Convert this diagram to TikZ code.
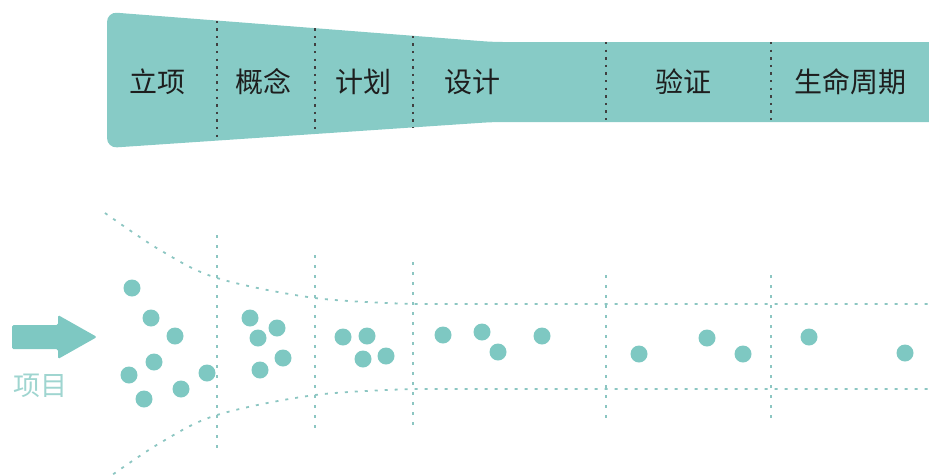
\documentclass[tikz,border=0pt]{standalone}
\usepackage{fontspec}
\newfontfamily\cjk{Noto Sans CJK SC}
\definecolor{bandfill}{HTML}{87CBC6}
\definecolor{dotfill}{HTML}{7EC8C2}
\definecolor{guide}{HTML}{8CC6C2}
\definecolor{lbl}{HTML}{9FD5D0}
\definecolor{txt}{HTML}{1E1E1E}
\tikzset{
  stagelabel/.style={font=\cjk\fontsize{28}{30}\selectfont, text=txt, inner sep=0pt, anchor=center},
  divider/.style={draw=txt!85, line width=2pt, dash pattern=on 2.4pt off 5.2pt},
  guideline/.style={draw=guide, line width=1.8pt, dash pattern=on 3pt off 7pt},
  itemdot/.style={circle, fill=dotfill, draw=none, minimum size=17pt, inner sep=0pt},
}
\begin{document}
\begin{tikzpicture}[x=1pt, y=-1pt]
\useasboundingbox (0,0) rectangle (929,475);
% banner
\fill[bandfill, rounded corners=10pt] (107,12) -- (493,42) -- (945,42) -- (945,122) -- (493,122) -- (107,148) -- cycle;
% dividers in banner
\draw[divider] (217,20.5) -- (217,140.6);
\draw[divider] (315,28.2) -- (315,134);
\draw[divider] (413,35.8) -- (413,127.4);
\draw[divider] (606,42) -- (606,122);
\draw[divider] (771,42) -- (771,122);
% stage labels
\node[stagelabel] (s1) at (157,82) {立项};
\node[stagelabel] (s2) at (263,82) {概念};
\node[stagelabel] (s3) at (363,82) {计划};
\node[stagelabel] (s4) at (472,82) {设计};
\node[stagelabel] (s5) at (683,82) {验证};
\node[stagelabel] (s6) at (850,82) {生命周期};
% funnel guides
\draw[guideline] plot[smooth, tension=0.55] coordinates {(105,213) (160,250) (217,278) (315,298) (413,304)} -- (929,304);
\draw[guideline] plot[smooth, tension=0.55] coordinates {(105,480) (160,443) (217,415) (315,395) (413,389)} -- (929,389);
\draw[guideline] (217,235) -- (217,455);
\draw[guideline] (315,255) -- (315,432);
\draw[guideline] (413,262) -- (413,428);
\draw[guideline] (606,275) -- (606,419);
\draw[guideline] (771,275) -- (771,419);
% input arrow
\fill[dotfill, rounded corners=1.5pt] (12,325) -- (58,325) -- (58,315) -- (97,337) -- (58,359) -- (58,349) -- (12,349) -- cycle;
\node[font=\cjk\fontsize{27}{30}\selectfont, text=lbl, inner sep=0pt] (proj) at (40,386) {项目};
% dots
\node[itemdot] (d1) at (132,288) {};
\node[itemdot] (d2) at (151,318) {};
\node[itemdot] (d3) at (175,336) {};
\node[itemdot] (d4) at (154,362) {};
\node[itemdot] (d5) at (129,375) {};
\node[itemdot] (d6) at (144,399) {};
\node[itemdot] (d7) at (181,389) {};
\node[itemdot] (d8) at (207,373) {};
\node[itemdot] (d9) at (250,318) {};
\node[itemdot] (d10) at (258,338) {};
\node[itemdot] (d11) at (277,328) {};
\node[itemdot] (d12) at (283,358) {};
\node[itemdot] (d13) at (260,370) {};
\node[itemdot] (d14) at (343,337) {};
\node[itemdot] (d15) at (367,336) {};
\node[itemdot] (d16) at (363,359) {};
\node[itemdot] (d17) at (386,356) {};
\node[itemdot] (d18) at (443,335) {};
\node[itemdot] (d19) at (482,332) {};
\node[itemdot] (d20) at (498,352) {};
\node[itemdot] (d21) at (542,336) {};
\node[itemdot] (d22) at (639,354) {};
\node[itemdot] (d23) at (707,338) {};
\node[itemdot] (d24) at (743,354) {};
\node[itemdot] (d25) at (809,337) {};
\node[itemdot] (d26) at (905,353) {};
\end{tikzpicture}
\end{document}
